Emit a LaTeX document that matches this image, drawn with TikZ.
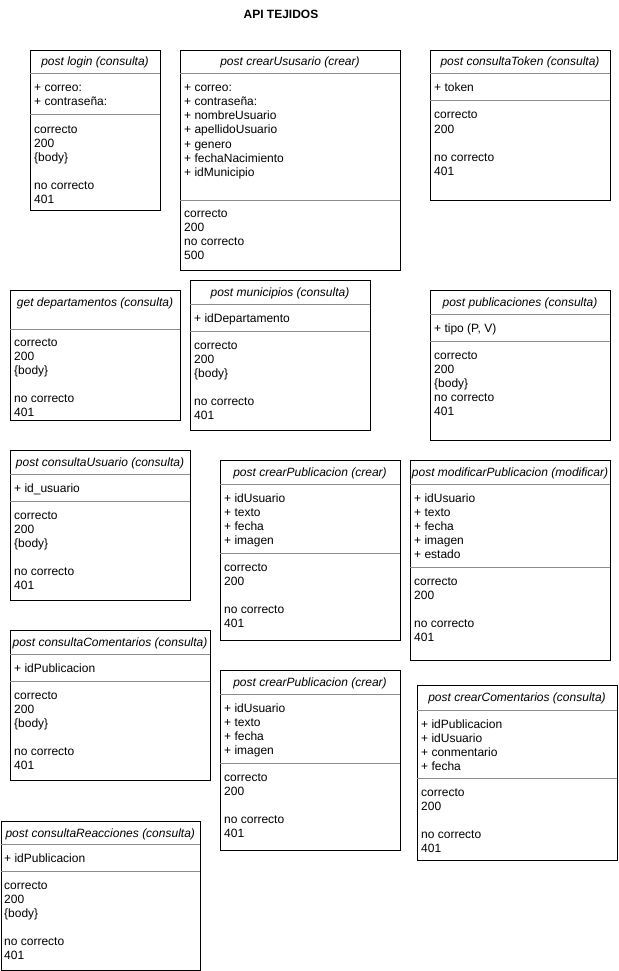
\documentclass[tikz,border=0pt]{standalone}
\usepackage{fontspec}
\setmainfont{Liberation Sans}
\newcommand{\umlbox}[6]{% name, x1, y1, x2, y2, title
  \node[boxst, minimum width={(#4-#2)*1pt}, minimum height={(#5-#3)*1pt}] (#1) at (#2,#3) {};
  \node[titlest] (#1-t) at ({(#2+#4)/2},{#3+16}) {#6};}
\newcommand{\divln}[3]{\draw[divst] (#1,#3) -- (#2,#3);}
\newcommand{\txtln}[4]{\node[txt] (#1) at (#2,#3) {#4};}
\tikzset{
  boxst/.style={draw=black, line width=1pt, anchor=north west, inner sep=0pt, fill=white},
  divst/.style={draw=black!45, line width=1pt},
  txt/.style={anchor=base west, inner sep=0pt, font=\fontsize{12}{14}\selectfont},
  titlest/.style={anchor=base, inner sep=0pt, font=\fontsize{12}{14}\selectfont\itshape},
}
\begin{document}
\begin{tikzpicture}[x=1pt,y=-1pt]
\useasboundingbox[fill=white] (0,0) rectangle (618,971);
\node[anchor=base, inner sep=0pt, font=\fontsize{12}{14}\selectfont\bfseries] (head) at (281,19) {API TEJIDOS};

% 1 login
\umlbox{b1}{30}{50}{160}{210}{post login (consulta)}
\divln{30}{160}{74}\divln{30}{160}{115}
\txtln{b1a1}{34}{92}{+ correo:}
\txtln{b1a2}{34}{106}{+ contraseña:}
\txtln{b1m1}{34}{133}{correcto}
\txtln{b1m2}{34}{147}{200}
\txtln{b1m3}{34}{161}{\{body\}}
\txtln{b1m4}{34}{189}{no correcto}
\txtln{b1m5}{34}{203}{401}

% 2 crearUsuario
\umlbox{b2}{180}{50}{400}{270}{post crearUsusario (crear)}
\divln{180}{400}{74}\divln{180}{400}{200}
\txtln{b2a1}{184}{92}{+ correo:}
\txtln{b2a2}{184}{106}{+ contraseña:}
\txtln{b2a3}{184}{120}{+ nombreUsuario}
\txtln{b2a4}{184}{134}{+ apellidoUsuario}
\txtln{b2a5}{184}{148}{+ genero}
\txtln{b2a6}{184}{162}{+ fechaNacimiento}
\txtln{b2a7}{184}{176}{+ idMunicipio}
\txtln{b2m1}{184}{217}{correcto}
\txtln{b2m2}{184}{231}{200}
\txtln{b2m3}{184}{245}{no correcto}
\txtln{b2m4}{184}{259}{500}

% 3 consultaToken
\umlbox{b3}{430}{50}{610}{200}{post consultaToken (consulta)}
\divln{430}{610}{74}\divln{430}{610}{101}
\txtln{b3a1}{434}{92}{+ token}
\txtln{b3m1}{434}{119}{correcto}
\txtln{b3m2}{434}{133}{200}
\txtln{b3m3}{434}{161}{no correcto}
\txtln{b3m4}{434}{175}{401}

% 4 departamentos
\umlbox{b4}{10}{290}{180}{420}{get departamentos (consulta)}
\divln{10}{180}{329}
\txtln{b4m1}{14}{346}{correcto}
\txtln{b4m2}{14}{360}{200}
\txtln{b4m3}{14}{374}{\{body\}}
\txtln{b4m4}{14}{402}{no correcto}
\txtln{b4m5}{14}{416}{401}

% 5 municipios
\umlbox{b5}{190}{280}{370}{430}{post municipios (consulta)}
\divln{190}{370}{304}\divln{190}{370}{331}
\txtln{b5a1}{194}{322}{+ idDepartamento}
\txtln{b5m1}{194}{349}{correcto}
\txtln{b5m2}{194}{363}{200}
\txtln{b5m3}{194}{377}{\{body\}}
\txtln{b5m4}{194}{405}{no correcto}
\txtln{b5m5}{194}{419}{401}

% 6 publicaciones
\umlbox{b6}{430}{290}{610}{440}{post publicaciones (consulta)}
\divln{430}{610}{314}\divln{430}{610}{341}
\txtln{b6a1}{434}{332}{+ tipo (P, V)}
\txtln{b6m1}{434}{359}{correcto}
\txtln{b6m2}{434}{373}{200}
\txtln{b6m3}{434}{387}{\{body\}}
\txtln{b6m4}{434}{401}{no correcto}
\txtln{b6m5}{434}{415}{401}

% 7 consultaUsuario
\umlbox{b7}{10}{450}{190}{600}{post consultaUsuario (consulta)}
\divln{10}{190}{474}\divln{10}{190}{501}
\txtln{b7a1}{14}{492}{+ id\_usuario}
\txtln{b7m1}{14}{519}{correcto}
\txtln{b7m2}{14}{533}{200}
\txtln{b7m3}{14}{547}{\{body\}}
\txtln{b7m4}{14}{575}{no correcto}
\txtln{b7m5}{14}{589}{401}

% 8 crearPublicacion
\umlbox{b8}{220}{460}{400}{640}{post crearPublicacion (crear)}
\divln{220}{400}{484}\divln{220}{400}{553}
\txtln{b8a1}{224}{502}{+ idUsuario}
\txtln{b8a2}{224}{516}{+ texto}
\txtln{b8a3}{224}{530}{+ fecha}
\txtln{b8a4}{224}{544}{+ imagen}
\txtln{b8m1}{224}{571}{correcto}
\txtln{b8m2}{224}{585}{200}
\txtln{b8m3}{224}{613}{no correcto}
\txtln{b8m4}{224}{627}{401}

% 9 modificarPublicacion
\umlbox{b9}{410}{460}{610}{660}{post modificarPublicacion (modificar)}
\divln{410}{610}{484}\divln{410}{610}{567}
\txtln{b9a1}{414}{502}{+ idUsuario}
\txtln{b9a2}{414}{516}{+ texto}
\txtln{b9a3}{414}{530}{+ fecha}
\txtln{b9a4}{414}{544}{+ imagen}
\txtln{b9a5}{414}{558}{+ estado}
\txtln{b9m1}{414}{585}{correcto}
\txtln{b9m2}{414}{599}{200}
\txtln{b9m3}{414}{627}{no correcto}
\txtln{b9m4}{414}{641}{401}

% 10 consultaComentarios
\umlbox{b10}{10}{630}{210}{780}{post consultaComentarios (consulta)}
\divln{10}{210}{654}\divln{10}{210}{681}
\txtln{b10a1}{14}{672}{+ idPublicacion}
\txtln{b10m1}{14}{699}{correcto}
\txtln{b10m2}{14}{713}{200}
\txtln{b10m3}{14}{727}{\{body\}}
\txtln{b10m4}{14}{755}{no correcto}
\txtln{b10m5}{14}{769}{401}

% 11 crearPublicacion (2)
\umlbox{b11}{220}{670}{400}{850}{post crearPublicacion (crear)}
\divln{220}{400}{694}\divln{220}{400}{763}
\txtln{b11a1}{224}{712}{+ idUsuario}
\txtln{b11a2}{224}{726}{+ texto}
\txtln{b11a3}{224}{740}{+ fecha}
\txtln{b11a4}{224}{754}{+ imagen}
\txtln{b11m1}{224}{781}{correcto}
\txtln{b11m2}{224}{795}{200}
\txtln{b11m3}{224}{823}{no correcto}
\txtln{b11m4}{224}{837}{401}

% 12 crearComentarios
\umlbox{b12}{417}{685}{617}{860}{post crearComentarios (consulta)}
\divln{417}{617}{710}\divln{417}{617}{778}
\txtln{b12a1}{421}{728}{+ idPublicacion}
\txtln{b12a2}{421}{742}{+ idUsuario}
\txtln{b12a3}{421}{756}{+ conmentario}
\txtln{b12a4}{421}{770}{+ fecha}
\txtln{b12m1}{421}{796}{correcto}
\txtln{b12m2}{421}{810}{200}
\txtln{b12m3}{421}{838}{no correcto}
\txtln{b12m4}{421}{852}{401}

% 13 consultaReacciones
\umlbox{b13}{0.5}{821}{200}{970}{post consultaReacciones (consulta)}
\divln{0.5}{200}{844}\divln{0.5}{200}{871}
\txtln{b13a1}{4}{862}{+ idPublicacion}
\txtln{b13m1}{4}{889}{correcto}
\txtln{b13m2}{4}{903}{200}
\txtln{b13m3}{4}{917}{\{body\}}
\txtln{b13m4}{4}{945}{no correcto}
\txtln{b13m5}{4}{959}{401}
\end{tikzpicture}
\end{document}
